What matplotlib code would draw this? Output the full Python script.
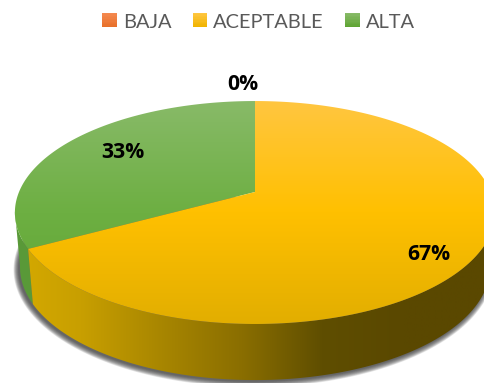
import matplotlib
matplotlib.use('Agg')
import matplotlib.pyplot as plt
import numpy as np
from matplotlib.colors import LinearSegmentedColormap
from matplotlib.legend_handler import HandlerBase
from matplotlib.patches import Patch, Polygon, Rectangle

categories = ['BAJA', 'ACEPTABLE', 'ALTA']
values = [0, 67, 33]

# one entry per slice: top face stops (top to bottom) and wall stops (left to right)
top_colors = [
    ['#F4894F', '#E8702A'],
    ['#FFC640', '#FFC000', '#E2AE00'],
    ['#88BA68', '#6DAF42', '#5FA533'],
]
wall_colors = [
    ['#A9541F', '#A9541F'],
    ['#D8AC00', '#C89F00', '#A88600', '#8A6E00', '#5F4E00', '#5A4800', '#5A4800'],
    ['#5A9A38', '#52903A'],
]
swatch_colors = [
    ['#F4894F', '#E8702A'],
    ['#FFC640', '#F0B400'],
    ['#88BA68', '#5FA533'],
]
label_pos = [(243, 85), (429, 255), (123, 153)]

W, H = 484, 383
CX = 255
TILT = 0.184
# only this arc of the wall faces the viewer (degrees clockwise from 12 o'clock)
FRONT = (100, 260)


def face(start, stop, rx, ry, cy, n=200):
    "points of a tilted disc between two clockwise angles from 12 o'clock"
    t = np.radians(np.linspace(start, stop, n))
    px = np.sin(t)
    py = np.cos(t)
    d = 1 + TILT * py
    return CX + rx * px / d, cy - ry * py / d


def top_edge(start, stop):
    return face(start, stop, 236, 107.7, 192)


def bottom_edge(start, stop):
    return face(start, stop, 231, 109, 246.5)


def fill_gradient(ax, poly_x, poly_y, colors, vertical, zorder):
    "paint a polygon with a linear gradient"
    cmap = LinearSegmentedColormap.from_list('g', colors)
    ramp = np.linspace(0, 1, 256)
    grad = ramp[:, None] if vertical else ramp[None, :]
    # the gradient spans the whole disc, so the slices shade consistently
    extent = (0, W, 324, 101) if vertical else (0, W, H, 0)
    im = ax.imshow(grad, cmap=cmap, extent=extent, aspect='auto', zorder=zorder,
                   interpolation='bilinear')
    patch = Polygon(np.column_stack([poly_x, poly_y]), closed=True, transform=ax.transData,
                    fc='none', ec='none')
    ax.add_patch(patch)
    im.set_clip_path(patch)


class GradientSwatch(HandlerBase):
    "legend key made of thin stacked bands"

    def create_artists(self, legend, orig_handle, xdescent, ydescent, width, height,
                       fontsize, trans):
        cmap = LinearSegmentedColormap.from_list('s', orig_handle.stops)
        n = 10
        bands = []
        for k in range(n):
            bands.append(Rectangle((xdescent, ydescent + height * (n - 1 - k) / n),
                                   width, height / n * 1.1, fc=cmap(k / (n - 1)),
                                   ec='none', transform=trans))
        return bands


fig = plt.figure(figsize=(W / 100, H / 100), dpi=100)
ax = fig.add_axes([0, 0, 1, 1])

# soft drop shadow under the wall
sx, sy = bottom_edge(60, 300)
for grow in np.linspace(5, 0, 12):
    ax.fill(CX - 1.5 + (sx - CX) * (1 + grow / 236), 246.5 + (sy - 246.5) * (1 + grow / 125) + 1.5,
            color='#3A3A3A', alpha=0.11, lw=0, zorder=1)

angles = np.concatenate([[0], np.cumsum(values) / np.sum(values) * 360])

# walls first, then the top faces
for i in [2, 1, 0]:
    start = max(angles[i], FRONT[0])
    stop = min(angles[i + 1], FRONT[1])
    if values[i] == 0 or stop <= start:
        continue
    tx, ty = top_edge(start, stop)
    bx, by = bottom_edge(start, stop)
    fill_gradient(ax, np.r_[tx, bx[::-1]], np.r_[ty, by[::-1]], wall_colors[i], False, 2)

for i in [2, 1, 0]:
    if values[i] == 0:
        continue
    tx, ty = top_edge(angles[i], angles[i + 1])
    fill_gradient(ax, np.r_[CX, tx], np.r_[192, ty], top_colors[i], True, 3)

ax.set_xlim(0, W)
ax.set_ylim(H, 0)
ax.axis('off')

for cat_value, (lx, ly) in zip(values, label_pos):
    ax.text(lx, ly, f'{cat_value}%', ha='center', va='center', fontsize=15.2,
            fontweight='bold', family='Open Sans', color='black', zorder=5)

handles = []
for name, stops in zip(categories, swatch_colors):
    h = Patch(label=name)
    h.stops = stops
    handles.append(h)
ax.legend(handles=handles, handler_map={Patch: GradientSwatch()}, ncol=3, frameon=False,
          loc='center', bbox_to_anchor=(258.5 / W, 1 - 22 / H), prop={'family': 'Lato', 'size': 14.4},
          labelcolor='#595959', handlelength=0.72, handleheight=0.72, handletextpad=0.3,
          columnspacing=1.08, borderpad=0)

fig.savefig('out.png', dpi=100)
